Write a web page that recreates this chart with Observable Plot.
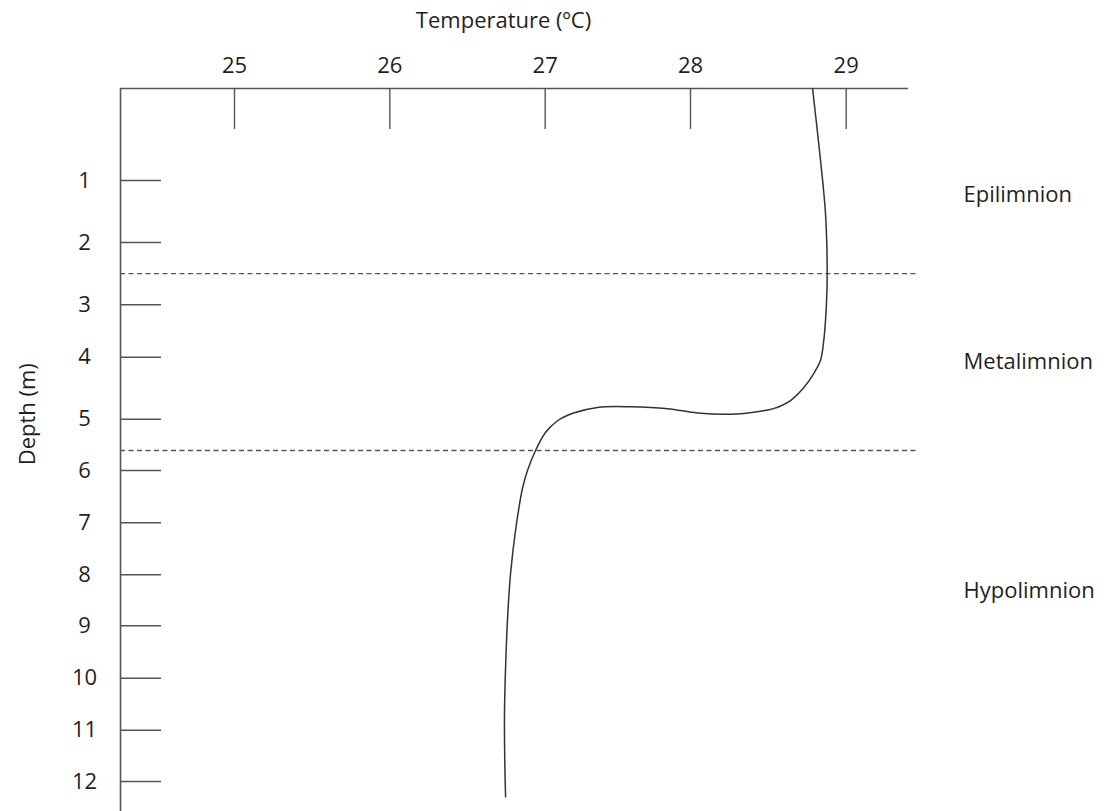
<!DOCTYPE html>
<html>
<head>
<meta charset="utf-8">
<script src="https://cdn.jsdelivr.net/npm/d3@7"></script>
<script src="https://cdn.jsdelivr.net/npm/@observablehq/plot@0.6"></script>
<style>
  html, body { margin: 0; padding: 0; background: #fff; }
  #chart svg { display: block; }
</style>
</head>
<body>
<div id="chart"></div>
<script>
// Temperature profile readings (°C) against depth (m)
const temperature = [28.784, 28.835, 28.867, 28.878, 28.874, 28.867, 28.856, 28.835, 28.792, 28.728, 28.642, 28.533, 28.45, 28.257, 28.045, 27.842, 27.587, 27.36, 27.195, 27.085, 27.002, 26.938, 26.886, 26.854, 26.809, 26.777, 26.757, 26.745, 26.738, 26.74, 26.745];
const depth =       [0,      0.78,   1.53,   2.48,   2.93,   3.30,   3.68,   4.05,   4.26,   4.49,   4.70,   4.83,   4.87,  4.92,   4.90,   4.83,   4.80,   4.81,   4.90,   5.03,   5.26,   5.61,   6.0,    6.34,   7.15,   7.98,   8.9,    9.8,    10.68,  11.63,  12.31];

const tempTicks = [25, 26, 27, 28, 29];
const depthTicks = [1, 2, 3, 4, 5, 6, 7, 8, 9, 10, 11, 12];

// layer boundaries (m)
const boundaries = [2.5, 5.61];
// layer names and the depth at which each name sits
const layerNames = ["Epilimnion", "Metalimnion", "Hypolimnion"];
const layerDepths = [1.24, 4.07, 8.31];

const profile = temperature.map((t, i) => ({t, d: depth[i]}));
const layers = layerNames.map((name, i) => ({name, d: layerDepths[i]}));

// The hand-drawn axes are not evenly spaced: map each unit onto its drawn position.
const xWarp = d3.scaleLinear()
  .domain([24.265, 25, 26, 27, 28, 29, 29.4])
  .range([120, 234, 389.3, 544.7, 690, 845.7, 908]);
const yWarp = d3.scaleLinear()
  .domain([0, 1, 2, 3, 4, 5, 6, 7, 8, 9, 10, 11, 12, 12.6])
  .range([88, 180, 242, 304.3, 356.7, 418.7, 470, 522.3, 574.3, 625.3, 677.7, 729.7, 781, 811]);

const ink = "#1f1f1f";
const axisGrey = "#555";

const chart = Plot.plot({
  width: 1118,
  height: 811,
  marginLeft: 120,
  marginRight: 210,
  marginTop: 88,
  marginBottom: 0,
  style: {fontFamily: "'Open Sans', sans-serif", fontSize: "22px", color: ink, background: "#fff"},
  x: {transform: xWarp, domain: [120, 908], range: [120, 908]},
  y: {transform: yWarp, domain: [88, 811], range: [88, 811]},
  marks: [
    // axis ticks live in the warped (scale) space, so feed them warped and label them with the original value
    Plot.axisX({anchor: "top", ticks: tempTicks.map(xWarp), tickFormat: v => String(Math.round(xWarp.invert(v))), tickSize: -40, tickPadding: 56, label: null, stroke: axisGrey, fill: ink, strokeWidth: 1.4}),
    Plot.axisY({anchor: "left", ticks: depthTicks.map(yWarp), tickFormat: v => String(Math.round(yWarp.invert(v))), tickSize: -41, tickPadding: 77, textAnchor: "middle", label: null, stroke: axisGrey, fill: ink, strokeWidth: 1.4}),
    Plot.ruleY([0], {stroke: axisGrey, strokeWidth: 1.6}),
    Plot.ruleX([24.265], {stroke: axisGrey, strokeWidth: 1.6}),
    Plot.ruleY(boundaries, {stroke: "#555", strokeWidth: 1.4, strokeDasharray: "5,3.5", insetRight: -10}),
    Plot.line(profile, {x: "t", y: "d", curve: "catmull-rom", stroke: "#333", strokeWidth: 1.5}),
    Plot.text(layers, {y: "d", text: "name", frameAnchor: "right", textAnchor: "start", dx: 55, fill: ink}),
    Plot.text(["Temperature (ºC)"], {frameAnchor: "top", dx: -11, dy: -76, fill: ink}),
    Plot.text([{d: 4.92, label: "Depth (m)"}], {y: "d", text: "label", frameAnchor: "left", textAnchor: "middle", rotate: -90, dx: -93, fill: ink})
  ]
});

document.getElementById("chart").append(chart);
</script>
</body>
</html>
